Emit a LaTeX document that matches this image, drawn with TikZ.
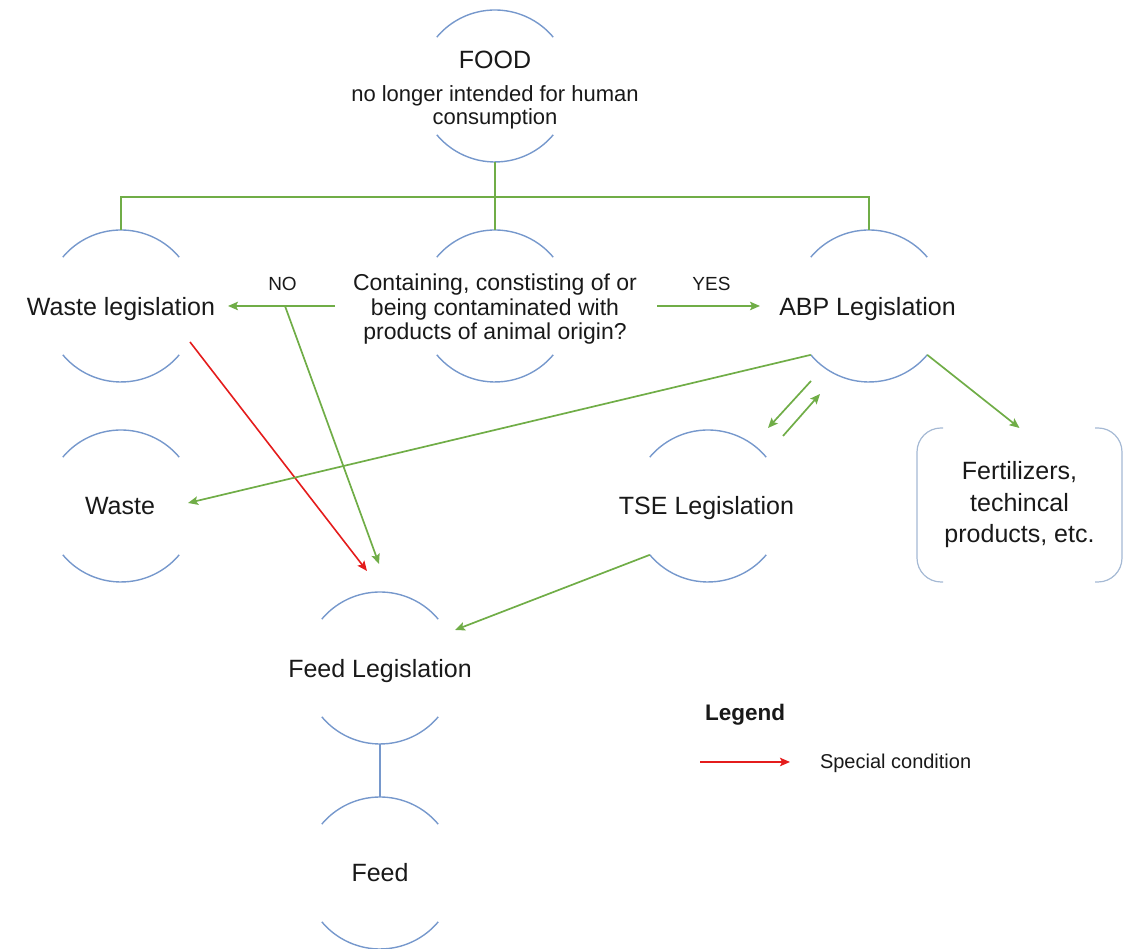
\documentclass[tikz,border=0pt]{standalone}
\usepackage{fontspec}
\setmainfont{Liberation Sans}
\usetikzlibrary{arrows.meta,calc}
\definecolor{arcblue}{RGB}{118,152,204}
\definecolor{brblue}{RGB}{165,185,212}
\definecolor{lgreen}{RGB}{112,173,71}
\definecolor{lred}{RGB}{228,28,28}
\newcommand\fbig{\fontsize{25}{30}\selectfont}
\newcommand\fmid{\fontsize{23}{24.5}\selectfont}
\newcommand\fsub{\fontsize{22}{23}\selectfont}
\newcommand\fsmall{\fontsize{19}{22}\selectfont}
\newcommand\flegend{\fontsize{20}{24}\selectfont}
\newcommand\ffert{\fontsize{25}{31.5}\selectfont}
\begin{document}
\begin{tikzpicture}[x=1pt,y=1pt,
  cut/.style={circle,minimum size=152pt,inner sep=0pt,outer sep=0pt,draw=none},
  lbl/.style={inner sep=0pt,outer sep=0pt,align=center,text=black!90},
  arcline/.style={draw=arcblue,line width=1.4pt},
  gline/.style={draw=lgreen,line width=1.7pt},
  garrow/.style={gline,-{Stealth[length=10pt,width=8.5pt,inset=2pt]}},
  rarrow/.style={draw=lred,line width=1.6pt,-{Stealth[length=10pt,width=8.5pt,inset=2pt]}},
  bracketline/.style={draw=brblue,line width=1.2pt,rounded corners=24pt}
]
\useasboundingbox (0,0) rectangle (1132,949);
% circles (only top and bottom arcs drawn)
\node[cut] (food) at (495,863) {};
\node[cut] (wl) at (121,643) {};
\node[cut] (q) at (495,643) {};
\node[cut] (abp) at (869,643) {};
\node[cut] (w) at (121,443) {};
\node[cut] (tse) at (708,443) {};
\node[cut] (fl) at (380,281) {};
\node[cut] (feed) at (380,76) {};
\foreach \n in {food,wl,q,abp,w,tse,fl,feed}{
  \draw[arcline] (\n.40) arc[start angle=40,end angle=140,radius=76];
  \draw[arcline] (\n.220) arc[start angle=220,end angle=320,radius=76];
}
% texts
\node[lbl,font=\fbig,anchor=base] (foodtitle) at (495,880) {FOOD};
\node[lbl,font=\fsub] (foodsub) at (495,842) {no longer intended for human\\consumption};
\node[lbl,font=\fmid] (qt) at (495,639.5) {Containing, constisting of or\\being contaminated with\\products of animal origin?};
\node[lbl,font=\fbig] (wlt) at (121,639.5) {Waste legislation};
\node[lbl,font=\fbig] (abpt) at (867.5,639.5) {ABP Legislation};
\node[lbl,font=\fbig] (wt) at (120,443) {Waste};
\node[lbl,font=\fbig] (tset) at (706.5,441) {TSE Legislation};
\node[lbl,font=\fbig] (flt) at (380,278) {Feed Legislation};
\node[lbl,font=\fbig] (feedt) at (380,76) {Feed};
\node[lbl,font=\ffert,minimum width=205pt,minimum height=154pt] (fert) at (1019.5,444)
  {Fertilizers,\\techincal\\products, etc.};
\draw[bracketline] ([xshift=26pt]fert.north west) -- (fert.north west) -- (fert.south west) -- ([xshift=26pt]fert.south west);
\draw[bracketline] ([xshift=-27pt]fert.north east) -- (fert.north east) -- (fert.south east) -- ([xshift=-27pt]fert.south east);
\node[lbl,font=\fsmall] (nolbl) at (282.5,665) {NO};
\node[lbl,font=\fsmall] (yeslbl) at (711.5,665) {YES};
% tree from FOOD
\coordinate (bus) at (495,752);
\draw[gline] (food.270) -- (bus);
\draw[gline] (wl.90) |- (bus) -| (abp.90);
\draw[gline] (q.90) -- (bus);
% NO / YES
\coordinate (nob) at (285,643);
\draw[garrow] ([xshift=-160pt]q.center) -- ([xshift=107pt]wl.center);
\draw[garrow] (nob) -- ([shift={(-1pt,104pt)}]fl.center);
\draw[garrow] ([xshift=162pt]q.center) -- ([xshift=-109pt]abp.center);
% special condition
\draw[rarrow] ([shift={(69pt,-36pt)}]wl.center) -- ([shift={(-13pt,97pt)}]fl.center);
% from ABP
\draw[garrow] (abp.220) -- ([shift={(67pt,3pt)}]w.center);
\draw[garrow] ([shift={(-58pt,-75pt)}]abp.center) -- ([shift={(60pt,78pt)}]tse.center);
\draw[garrow] ([shift={(75pt,70pt)}]tse.center) -- ([shift={(-49pt,-88pt)}]abp.center);
\draw[garrow] (abp.320) -- (fert.north);
% TSE to Feed legislation
\draw[garrow] (tse.220) -- ([shift={(75pt,38pt)}]fl.center);
% Feed legislation to Feed
\draw[arcline] (fl.270) -- (feed.90);
% legend
\node[lbl,font=\fontsize{22.5}{26}\selectfont\bfseries] (legend) at (745,234.5) {Legend};
\node[lbl,font=\flegend,anchor=west] (spc) at (820,186) {Special condition};
\coordinate (legstart) at (700,187);
\draw[rarrow,shorten >=30pt] (legstart) -- (spc.west |- legstart);
\end{tikzpicture}
\end{document}
